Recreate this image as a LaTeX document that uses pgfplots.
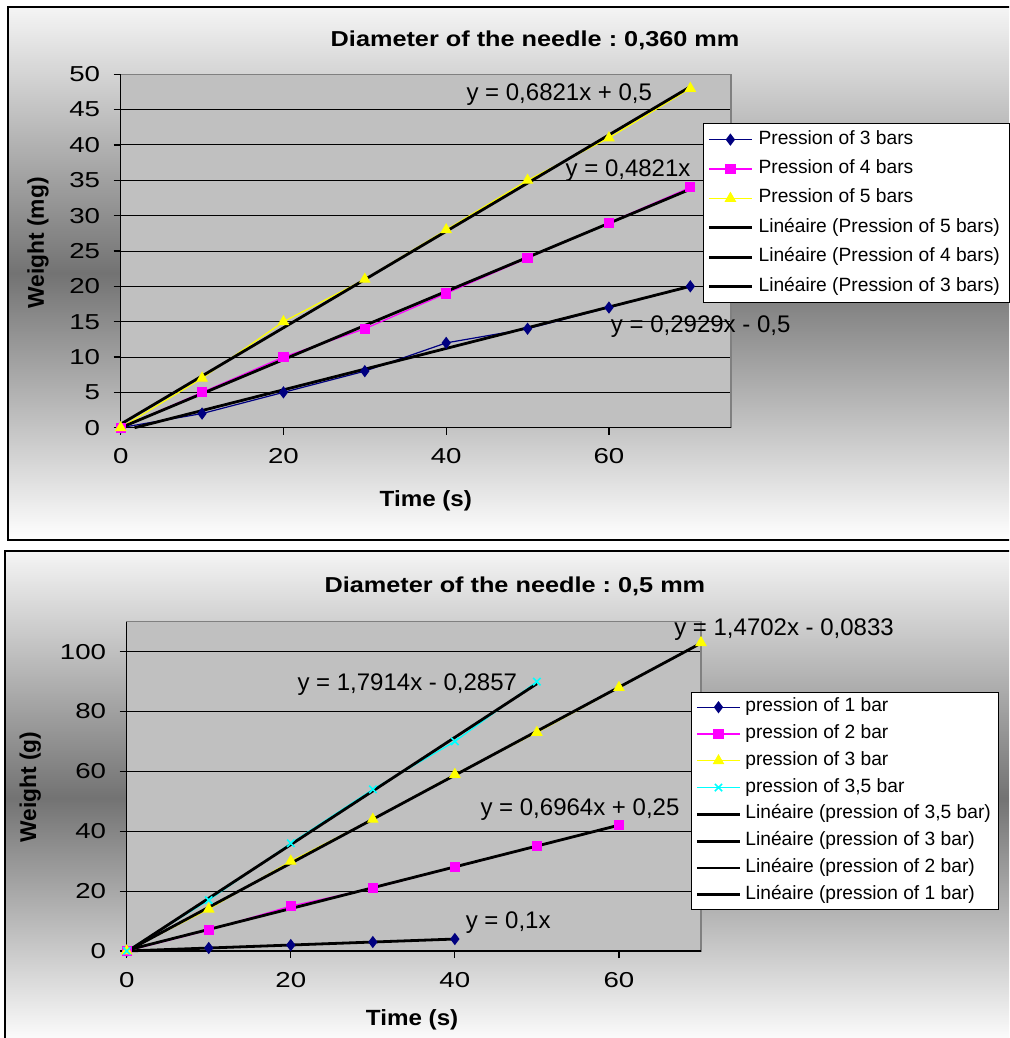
\documentclass[border=0pt]{standalone}
\usepackage{fontspec}
\setmainfont{Liberation Sans}
\usepackage{pgfplots}
\pgfplotsset{compat=1.18}
\frenchspacing

\definecolor{plotgray}{HTML}{C0C0C0}
\definecolor{xlnavy}{HTML}{000080}
\definecolor{xlmagenta}{HTML}{FF00FF}
\definecolor{xlyellow}{HTML}{FFFF00}
\definecolor{xlcyan}{HTML}{00FFFF}

\tikzset{eq/.style={font=\fontsize{12}{14}\selectfont, inner sep=0pt}}
\pgfplotsset{
  xlchart/.style={
    scale only axis, clip=false,
    axis background/.style={fill=plotgray},
    axis line style={draw=black!50, line width=0.6pt},
    ymajorgrids, grid style={black, line width=0.5pt},
    tick align=outside, major tick length=3.5pt,
    xtick pos=bottom, ytick pos=left,
    tick style={black, line width=0.6pt},
    /pgf/number format/assume math mode=true,
    ticklabel style={font=\fontsize{10.8}{12}\selectfont, xscale=1.28},
    xticklabel style={yshift=-3.5pt},
    yticklabel style={xshift=-1.8pt},
    title style={font=\bfseries\fontsize{10.8}{12}\selectfont, xscale=1.17, anchor=center},
    xlabel style={font=\bfseries\fontsize{11}{13}\selectfont, xscale=1.1, anchor=center},
    ylabel style={font=\bfseries\fontsize{11.4}{13}\selectfont, anchor=center},
    legend style={draw=black, line width=0.5pt, fill=white, anchor=north west,
      font=\fontsize{9.6}{11}\selectfont, inner xsep=2pt, inner ysep=0.5pt},
    legend cell align=left,
    legend image code/.code={
      \draw[mark repeat=2, mark phase=2, #1] plot coordinates {(0pt,0pt) (10.8pt,0pt) (21.6pt,0pt)};
    },
  },
  ser/.style={line width=0.6pt},
  trend/.style={black, line width=1.4pt, mark=none},
}

\begin{document}
\begin{tikzpicture}
\begin{scope}[x=0.5pt, y=-0.5pt]
  \path[use as bounding box] (0,0) rectangle (1009,1038);
  \clip (0,0) rectangle (1009,1038);
  \fill[white] (0,0) rectangle (1009,1038);
  \shade[top color=black!4, bottom color=white, middle color=black!55] (8,7) rectangle (1015,540);
  \draw[black, line width=1pt] (8,7) rectangle (1015,540);
  \shade[top color=black!4, bottom color=white, middle color=black!55] (5,551) rectangle (1015,1045);
  \draw[black, line width=1pt] (5,551) rectangle (1015,1045);
\end{scope}

% top chart
\begin{axis}[xlchart,
  at={(60.35pt,-213.85pt)}, anchor=south west,
  width=305.15pt, height=176.7pt,
  xmin=0, xmax=75, ymin=0, ymax=50,
  xtick={0,20,40,60}, ytick={0,5,...,50},
  title={Diameter of the needle : 0,360 mm},
  title style={at={(axis description cs:0.679,1.062)}},
  xlabel={Time (s)}, xlabel style={at={(axis description cs:0.5,-0.207)}},
  ylabel={Weight (mg)}, ylabel style={at={(axis description cs:-0.1355,0.523)}},
  legend style={at={(axis description cs:0.954,0.861)},
    nodes={inner sep=2.6pt, text height=7pt, text depth=2.5pt}},
]
\addplot[ser, xlnavy, mark=diamond*, mark size=2.6pt] coordinates {
  (0,0) (10,2) (20,5) (30,8) (40,12) (50,14) (60,17) (70,20)};
\addlegendentry{Pression of 3 bars}
\addplot[ser, xlmagenta, mark=square*, mark size=2.25pt] coordinates {
  (0,0) (10,5) (20,10) (30,14) (40,19) (50,24) (60,29) (70,34)};
\addlegendentry{Pression of 4 bars}
\addplot[ser, xlyellow, mark=triangle*, mark size=2.8pt] coordinates {
  (0,0) (10,7) (20,15) (30,21) (40,28) (50,35) (60,41) (70,48)};
\addlegendentry{Pression of 5 bars}
\addplot[trend] coordinates {(0,0.5) (70,48.247)};
\addlegendentry{Linéaire (Pression of 5 bars)}
\addplot[trend] coordinates {(0,0) (70,33.747)};
\addlegendentry{Linéaire (Pression of 4 bars)}
\addplot[trend] coordinates {(1.707,0) (70,20.003)};
\addlegendentry{Linéaire (Pression of 3 bars)}
\draw[black, line width=0.6pt] (rel axis cs:0,1) -- (rel axis cs:0,0) -- (rel axis cs:1,0);
\node[eq] at (axis cs:53.9,47.06) {y = 0,6821x + 0,5};
\node[eq] at (axis cs:62.35,36.4) {y = 0,4821x};
\node[eq, anchor=west] at (axis cs:60.2,14.3) {y = 0,2929x - 0,5};
\end{axis}

% bottom chart
\begin{axis}[xlchart,
  at={(63.35pt,-475.5pt)}, anchor=south west,
  width=287.15pt, height=164.65pt,
  xmin=0, xmax=70, ymin=0, ymax=110,
  xtick={0,20,40,60}, ytick={0,20,...,100},
  title={Diameter of the needle : 0,5 mm},
  title style={at={(axis description cs:0.676,1.071)}},
  xlabel={Time (s)}, xlabel style={at={(axis description cs:0.497,-0.21)}},
  ylabel={Weight (g)}, ylabel style={at={(axis description cs:-0.168,0.498)}},
  legend style={at={(axis description cs:0.9826,0.7856)},
    nodes={inner sep=1.95pt, text height=7pt, text depth=2.5pt}},
]
\addplot[ser, xlnavy, mark=diamond*, mark size=2.6pt] coordinates {
  (0,0) (10,1) (20,2) (30,3) (40,4)};
\addlegendentry{pression of 1 bar}
\addplot[ser, xlmagenta, mark=square*, mark size=2.25pt] coordinates {
  (0,0) (10,7) (20,15) (30,21) (40,28) (50,35) (60,42)};
\addlegendentry{pression of 2 bar}
\addplot[ser, xlyellow, mark=triangle*, mark size=2.8pt] coordinates {
  (0,0) (10,14) (20,30) (30,44) (40,59) (50,73) (60,88) (70,103)};
\addlegendentry{pression of 3 bar}
\addplot[ser, xlcyan, mark=x, mark size=2.6pt, mark options={line width=0.8pt}] coordinates {
  (0,0) (10,17) (20,36) (30,54) (40,70) (50,90)};
\addlegendentry{pression of 3,5 bar}
\addplot[trend] coordinates {(0.16,0) (50,89.284)};
\addlegendentry{Linéaire (pression of 3,5 bar)}
\addplot[trend] coordinates {(0.057,0) (70,102.831)};
\addlegendentry{Linéaire (pression of 3 bar)}
\addplot[trend] coordinates {(0,0.25) (60,42.034)};
\addlegendentry{Linéaire (pression of 2 bar)}
\addplot[trend] coordinates {(0,0) (40,4)};
\addlegendentry{Linéaire (pression of 1 bar)}
\draw[black, line width=0.6pt] (rel axis cs:0,1) -- (rel axis cs:0,0) -- (rel axis cs:1,0);
\node[eq, anchor=west] at (axis cs:66.7,107.2) {y = 1,4702x - 0,0833};
\node[eq] at (axis cs:34.2,88.9) {y = 1,7914x - 0,2857};
\node[eq] at (axis cs:55.25,47.1) {y = 0,6964x + 0,25};
\node[eq] at (axis cs:46.5,9.35) {y = 0,1x};
\end{axis}
\end{tikzpicture}
\end{document}
